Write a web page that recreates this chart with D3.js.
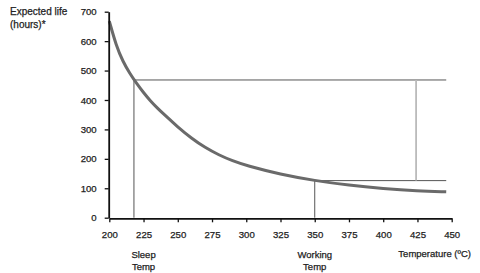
<!DOCTYPE html>
<html><head><meta charset="utf-8">
<script src="https://cdn.jsdelivr.net/npm/d3@7"></script>
<style>html,body{margin:0;padding:0;background:#fff;}svg{display:block;}</style>
</head><body>
<script>
// Data
const temps = [200, 205, 210, 215, 220, 225, 230, 235, 240, 250, 260, 270, 280, 290, 300, 325, 350, 375, 400, 425, 446];
const life  = [668, 585, 530, 490, 456, 425, 397, 373, 351, 308, 270, 238, 213, 193, 177, 147, 126, 110, 99, 91, 88];
const xTicks = [200, 225, 250, 275, 300, 325, 350, 375, 400, 425, 450];
const yTicks = [0, 100, 200, 300, 400, 500, 600, 700];
const sleepTemp = 218, sleepLife = 468;
const workTemp = 350, workLife = 126;
const refTemp = 424, lineEnd = 446;
const yTitle = ["Expected life", "(hours)*"];
const xTitle = "Temperature (ºC)";
const markerLabels = [{t: 225, lines: ["Sleep", "Temp"]}, {t: 350, lines: ["Working", "Temp"]}];

const W = 480, H = 273;
const svg = d3.select("body").append("svg").attr("width", W).attr("height", H);
const x = d3.scaleLinear().domain([200, 450]).range([109.3, 451.7]);
const y = d3.scaleLinear().domain([0, 700]).range([217.7, 11.7]);
const font = "'Liberation Sans', Arial, Helvetica, sans-serif";
function styleText(sel, size) {
  sel.attr("font-family", font).attr("font-size", size).attr("fill", "#222")
     .attr("stroke", "#222").attr("stroke-width", 0.25);
}

// reference lines
const g = svg.append("g");
g.append("line").attr("x1", x(sleepTemp)).attr("x2", x(sleepTemp)).attr("y1", y(0)).attr("y2", y(sleepLife))
  .attr("stroke", "#555").attr("stroke-width", 1);
g.append("line").attr("x1", x(sleepTemp)).attr("x2", x(lineEnd)).attr("y1", y(sleepLife)).attr("y2", y(sleepLife))
  .attr("stroke", "#555").attr("stroke-width", 1);
g.append("line").attr("x1", x(workTemp)).attr("x2", x(workTemp)).attr("y1", y(0)).attr("y2", y(workLife))
  .attr("stroke", "#555").attr("stroke-width", 1);
g.append("line").attr("x1", x(workTemp)).attr("x2", x(lineEnd)).attr("y1", y(workLife)).attr("y2", y(workLife))
  .attr("stroke", "#555").attr("stroke-width", 1);
g.append("line").attr("x1", x(refTemp)).attr("x2", x(refTemp)).attr("y1", y(sleepLife)).attr("y2", y(workLife))
  .attr("stroke", "#bbb").attr("stroke-width", 1.8);

// curve
const pts = temps.map((t, i) => [t, life[i]]);
svg.append("path").datum(pts)
  .attr("fill", "none").attr("stroke", "#6a6a6a").attr("stroke-width", 3)
  .attr("d", d3.line().x(d => x(d[0])).y(d => y(d[1])).curve(d3.curveBasis));

// axes
const xAxis = svg.append("g").attr("transform", `translate(0,${y(0)+0.6})`)
  .call(d3.axisBottom(x).tickValues(xTicks).tickSize(4).tickSizeOuter(0).tickPadding(9));
const yAxis = svg.append("g").attr("transform", `translate(${x(200)-0.6},0)`)
  .call(d3.axisLeft(y).tickValues(yTicks).tickSize(4).tickSizeOuter(0).tickPadding(8));
[xAxis, yAxis].forEach(a => {
  a.select(".domain").attr("stroke", "#111").attr("stroke-width", 1.8);
  a.selectAll(".tick line").attr("stroke", "#111").attr("stroke-width", 1.3);
  styleText(a.selectAll(".tick text"), 9.6);
});

// titles
styleText(svg.append("g").selectAll("text").data(yTitle).join("text")
  .attr("x", 10).attr("y", (d, i) => 14.5 + i * 13.5).text(d => d), 10);
styleText(svg.append("text").attr("x", 471).attr("y", 257).attr("text-anchor", "end").text(xTitle), 9.5);
markerLabels.forEach(m => {
  styleText(svg.append("g").selectAll("text").data(m.lines).join("text")
    .attr("x", x(m.t)).attr("y", (d, i) => 257.5 + i * 12).attr("text-anchor", "middle").text(d => d), 9.5);
});
</script>
</body></html>
